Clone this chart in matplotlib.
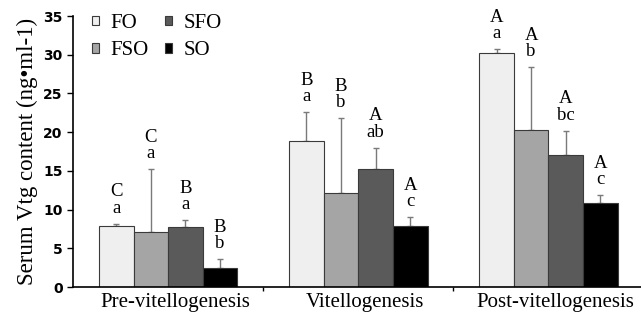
import numpy as np
import matplotlib.pyplot as plt
from matplotlib.transforms import ScaledTranslation

# data
stages = ['Pre-vitellogenesis', 'Vitellogenesis', 'Post-vitellogenesis']
diets = ['FO', 'FSO', 'SFO', 'SO']
colors = ['#efefef', '#a5a5a5', '#5a5a5a', '#000000']

fo = [7.9, 18.8, 30.2]
fso = [7.05, 12.2, 20.3]
sfo = [7.8, 15.3, 17.0]
so = [2.5, 7.9, 10.9]

fo_err = [0.3, 3.8, 0.5]
fso_err = [8.2, 9.6, 8.1]
sfo_err = [0.8, 2.7, 3.2]
so_err = [1.1, 1.1, 1.0]

upper = [['C', 'B', 'A'], ['C', 'B', 'A'], ['B', 'A', 'A'], ['B', 'A', 'A']]
lower = [['a', 'a', 'a'], ['a', 'b', 'b'], ['a', 'ab', 'bc'], ['b', 'c', 'c']]

values = [fo, fso, sfo, so]
errors = [fo_err, fso_err, sfo_err, so_err]

fig = plt.figure(figsize=(6.41, 3.2), dpi=100)
ax = fig.add_axes([0.114, 0.103, 0.89, 0.847])

x = np.arange(len(stages))
w = 0.182
for i, d in enumerate(diets):
    pos = x + (i - 1.5) * w
    ax.bar(pos, values[i], w, color=colors[i], edgecolor='#3a3a3a', linewidth=0.8,
           label=d, zorder=2)
    ax.errorbar(pos, values[i], yerr=[np.zeros(3), errors[i]], fmt='none',
                ecolor='#7a7a7a', elinewidth=1.0, capsize=2.5, capthick=1.0, zorder=1)
    for j in range(3):
        top = values[i][j] + errors[i][j]
        ax.annotate(upper[i][j] + '\n' + lower[i][j], (pos[j], top),
                    xytext=(0, 5), textcoords='offset points', ha='center', va='bottom',
                    family='Liberation Serif', fontsize=13.5, linespacing=0.95)

ax.set_ylim(0, 35)
ax.set_xlim(-0.5, 2.5)
ax.set_yticks(range(0, 36, 5))
ax.tick_params(axis='y', labelsize=10, length=4, width=1)
for t in ax.get_yticklabels():
    t.set_fontweight('bold')
ax.set_xticks(x)
ax.set_xticklabels(stages, family='Liberation Serif', fontsize=15)
ax.tick_params(axis='x', length=0, pad=4)
shift = ScaledTranslation(7 / 100, 0, fig.dpi_scale_trans)
for t in ax.get_xticklabels():
    t.set_transform(t.get_transform() + shift)
ax.set_xticks([0.5, 1.5], minor=True)
ax.tick_params(axis='x', which='minor', length=3, width=1)

ax.spines['top'].set_visible(False)
ax.spines['right'].set_visible(False)
ax.spines['left'].set_linewidth(1.2)
ax.spines['bottom'].set_linewidth(1.2)

ax.set_ylabel('Serum Vtg content (ng\u2022ml-1)', family='Liberation Serif', fontsize=16.5, labelpad=4)

fig.legend(*ax.get_legend_handles_labels(), ncol=2, loc='upper left',
           bbox_to_anchor=(92 / 641, 1 - 14 / 320), frameon=False, borderpad=0, borderaxespad=0,
           prop={'family': 'Liberation Serif', 'size': 15}, handlelength=0.33, handleheight=0.33,
           handletextpad=0.55, columnspacing=0.8, labelspacing=0.4)

fig.savefig('out.png', dpi=100)
